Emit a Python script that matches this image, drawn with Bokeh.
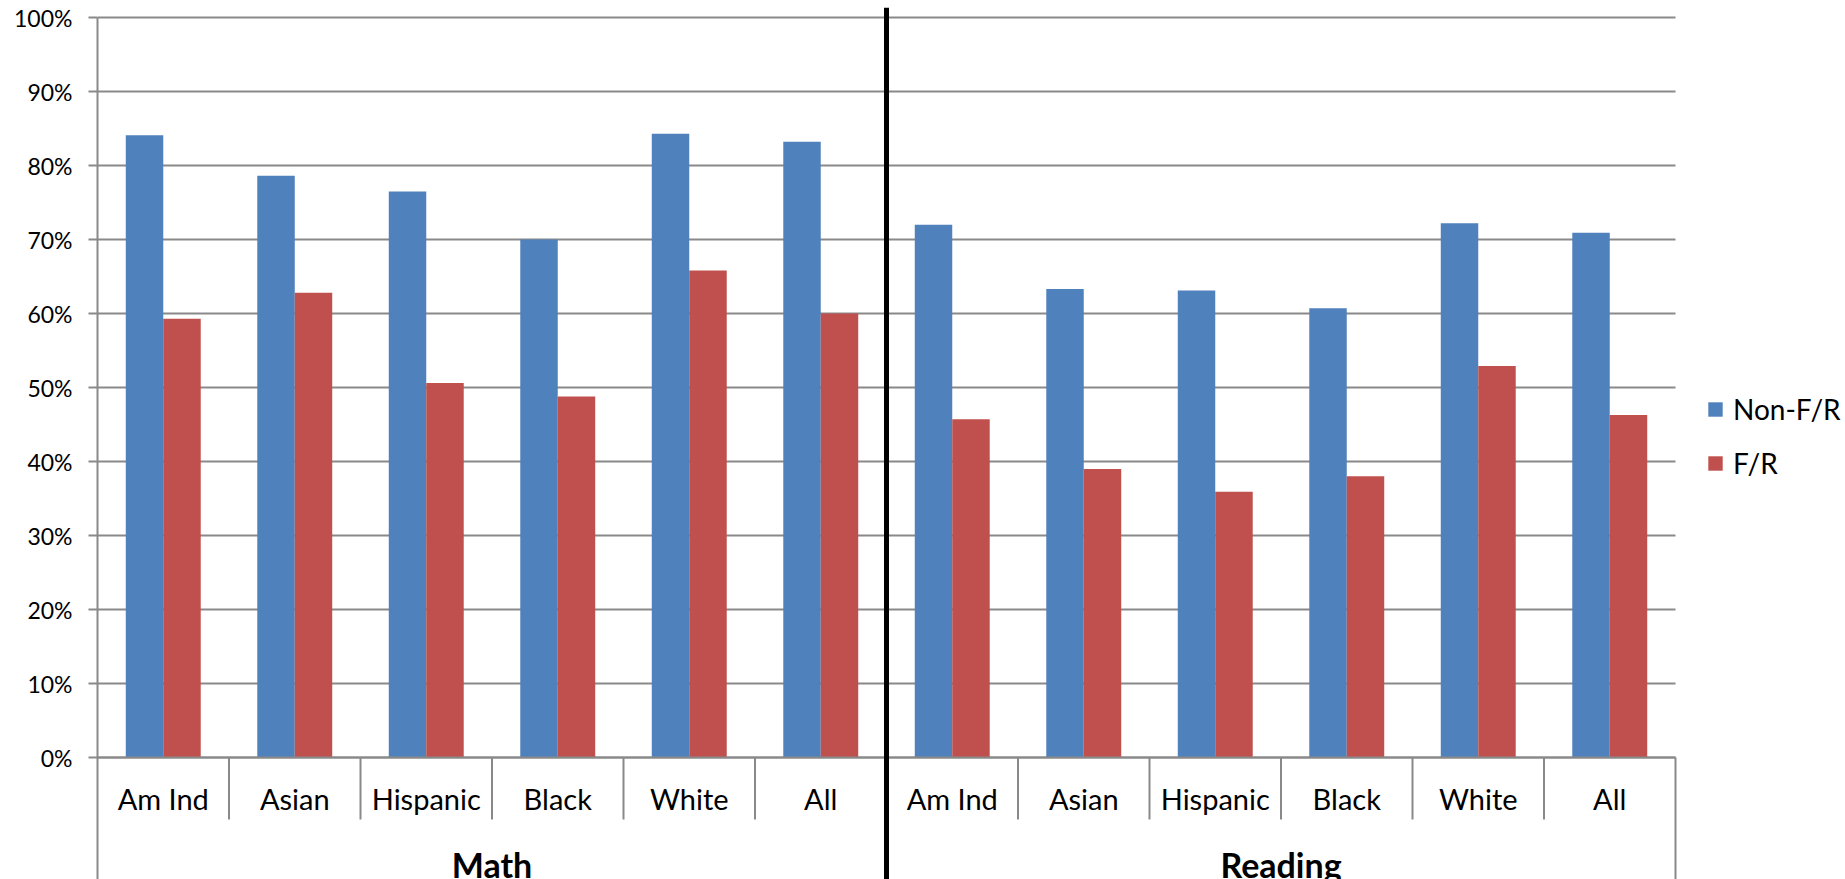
from bokeh.plotting import figure
from bokeh.models import Range1d, FixedTicker, Span, Legend, LegendItem, ColumnDataSource
from bokeh.core.properties import value
from bokeh.embed import file_html
from bokeh.resources import INLINE

# ---------------- data ----------------
subjects = ["Math", "Reading"]
groups = ["Am Ind", "Asian", "Hispanic", "Black", "White", "All"]
series_names = ["Non-F/R", "F/R"]
non_fr = [0.841, 0.786, 0.765, 0.700, 0.843, 0.832,
          0.720, 0.633, 0.631, 0.607, 0.722, 0.709]
fr = [0.593, 0.628, 0.506, 0.488, 0.658, 0.600,
      0.457, 0.390, 0.359, 0.380, 0.529, 0.463]
tick_values = [0.0, 0.1, 0.2, 0.3, 0.4, 0.5, 0.6, 0.7, 0.8, 0.9, 1.0]
tick_labels = ["0%", "10%", "20%", "30%", "40%", "50%", "60%", "70%", "80%", "90%", "100%"]

# ---------------- layout constants ----------------
W, H = 1845, 879
LEFT = 97            # frame left (px)
TOP = 7              # frame top (px)
CAT_PX = 131.5       # width of one category (px)
ZERO_Y = 757         # y pixel of 0%
PX_PER_UNIT = 740    # pixels for 100%
BAR_W = 0.285        # bar width in category units
FONT = "Lato"
GRAY = "#898989"
BLUE = "#4F81BD"
RED = "#C0504D"

x_end = (W - LEFT) / CAT_PX
y_top = (ZERO_Y - TOP) / PX_PER_UNIT
y_bottom = -(H - ZERO_Y) / PX_PER_UNIT

n_groups = len(groups)
n_cats = len(subjects) * n_groups
cat_labels = groups * len(subjects)
centers = [i + 0.5 for i in range(n_cats)]

p = figure(width=W, height=H, output_backend="svg", toolbar_location=None,
           x_range=Range1d(0, x_end), y_range=Range1d(y_bottom, y_top),
           min_border_left=LEFT, min_border_right=0, min_border_top=TOP,
           min_border_bottom=0, x_axis_location=None)
p.outline_line_color = None
p.xgrid.visible = False
p.ygrid.visible = False
p.background_fill_color = "white"
p.border_fill_color = "white"

# y axis
yax = p.yaxis[0]
yax.ticker = FixedTicker(ticks=tick_values)
yax.major_label_overrides = {v: l for v, l in zip(tick_values, tick_labels)}
yax.bounds = (y_bottom, 1.0)
yax.axis_line_color = GRAY
yax.axis_line_width = 2
yax.major_tick_line_color = GRAY
yax.major_tick_line_width = 2
yax.major_tick_out = 9
yax.major_tick_in = 0
yax.minor_tick_line_color = None
yax.major_label_standoff = 16
yax.major_label_text_font = FONT
yax.major_label_text_font_size = "23px"
yax.major_label_text_color = "black"

# gridlines (limited to the category area)
p.segment(x0=[0] * len(tick_values), x1=[n_cats] * len(tick_values),
          y0=tick_values, y1=tick_values, line_color=GRAY, line_width=2)

# bars
src = ColumnDataSource(dict(
    xb=[c - BAR_W / 2 for c in centers],
    xr=[c + BAR_W / 2 for c in centers],
    non_fr=non_fr, fr=fr))
r_blue = p.vbar(x="xb", top="non_fr", width=BAR_W, bottom=0, source=src,
                fill_color=BLUE, line_color=None)
r_red = p.vbar(x="xr", top="fr", width=BAR_W, bottom=0, source=src,
               fill_color=RED, line_color=None)

# baseline (0%) redrawn over bars
p.segment(x0=[0], x1=[n_cats], y0=[0], y1=[0], line_color=GRAY, line_width=2)

# category separators
inner = [i for i in range(1, n_cats) if i % n_groups != 0]
sep_len = 62 / PX_PER_UNIT
p.segment(x0=inner, x1=inner, y0=[0] * len(inner), y1=[-sep_len] * len(inner),
          line_color=GRAY, line_width=2)
p.segment(x0=[n_cats], x1=[n_cats], y0=[0], y1=[y_bottom],
          line_color=GRAY, line_width=2)

# category labels
cat_base = -40.5 / PX_PER_UNIT
p.text(x=centers, y=[cat_base] * n_cats, text=cat_labels,
       text_font=value(FONT), text_font_size=value("29px"),
       text_align="center", text_baseline="alphabetic", text_color="black")

# subject labels
subj_x = [n_groups * (k + 0.5) for k in range(len(subjects))]
subj_base = -107 / PX_PER_UNIT
p.text(x=subj_x, y=[subj_base] * len(subjects), text=subjects,
       text_font=value(FONT), text_font_size=value("34px"), text_font_style="bold",
       text_align="center", text_baseline="alphabetic", text_color="black")

# thick divider between subjects
p.add_layout(Span(location=n_groups, dimension="height", line_color="black",
                  line_width=5))

# legend
legend = Legend(items=[LegendItem(label=series_names[0], renderers=[r_blue]),
                       LegendItem(label=series_names[1], renderers=[r_red])],
                location=(1609, 399), orientation="vertical",
                glyph_width=18, glyph_height=18, label_standoff=9,
                spacing=20, padding=0, margin=0,
                border_line_color=None, background_fill_alpha=0,
                label_text_font=FONT, label_text_font_size="28px",
                label_text_color="black")
p.add_layout(legend)

open("out.html", "w").write(file_html(p, INLINE))
